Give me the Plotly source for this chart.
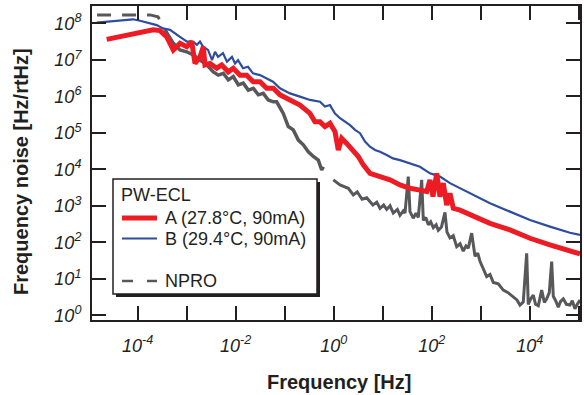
import plotly.graph_objects as go

# ---- data (log10 of frequency [Hz], log10 of noise [Hz/rtHz]) ----
b_logf = [-4.837, -4.096, -3.953, -3.612, -3.484, -3.341, -3.137, -2.994, -2.871, -2.790, -2.729,
          -2.667, -2.565, -2.483, -2.422, -2.361, -2.259, -2.178, -2.076, -2.014, -1.953, -1.851,
          -1.749, -1.647, -1.504, -1.361, -1.239, -1.096, -0.892, -0.688, -0.484, -0.280, -0.178,
          -0.076, 0.027, 0.129, 0.231, 0.333, 0.435, 0.537, 0.639, 0.741, 0.843, 0.945, 1.082,
          1.210, 1.353, 1.557, 1.761, 1.965, 2.169, 2.373, 2.578, 2.782, 2.986, 3.190, 3.598,
          4.006, 4.414, 4.822, 5.027]
b_logn = [8.02, 8.11, 8.07, 7.95, 7.86, 7.82, 7.63, 7.50, 7.50, 7.41, 7.50,
          7.36, 7.27, 6.99, 7.22, 7.08, 7.18, 6.95, 7.08, 6.90, 6.99, 6.77,
          6.81, 6.63, 6.58, 6.49, 6.40, 6.22, 6.08, 5.99, 5.90, 5.85, 5.72,
          5.76, 5.53, 5.40, 5.31, 5.21, 5.08, 4.99, 4.76, 4.62, 4.53, 4.48, 4.39,
          4.30, 4.25, 4.16, 4.07, 3.89, 3.80, 3.62, 3.48, 3.34, 3.21, 3.07, 2.84,
          2.61, 2.43, 2.26, 2.20]

a_logf = [-4.633, -3.953, -3.682, -3.545, -3.408, -3.273, -3.137, -3.000, -2.898, -2.831, -2.729,
          -2.661, -2.627, -2.524, -2.388, -2.286, -2.151, -2.049, -1.912, -1.776, -1.641, -1.504,
          -1.367, -1.233, -1.096, -0.892, -0.688, -0.484, -0.382, -0.280, -0.178, -0.076, 0.027,
          0.094, 0.163, 0.265, 0.400, 0.502, 0.604, 0.741, 0.945, 1.149, 1.353, 1.557, 1.761,
          1.898, 1.965, 2.027, 2.102, 2.169, 2.237, 2.306, 2.373, 2.441, 2.578, 2.782, 2.986,
          3.190, 3.598, 4.006, 4.414, 4.822, 5.027]
a_logn = [7.56, 7.73, 7.82, 7.80, 7.63, 7.27, 7.45, 7.36, 7.50, 6.90, 7.08,
          7.36, 6.86, 6.90, 6.77, 6.86, 6.67, 6.77, 6.58, 6.58, 6.40, 6.40,
          6.22, 6.22, 6.04, 5.90, 5.76, 5.53, 5.30, 5.30, 5.17, 5.26, 5.03,
          4.53, 4.85, 4.71, 4.53, 4.35, 4.12, 3.89, 3.80, 3.71, 3.57, 3.48, 3.43,
          3.39, 3.71, 3.25, 3.89, 3.25, 3.62, 3.02, 3.34, 2.93, 2.88, 2.77, 2.66,
          2.52, 2.34, 2.11, 1.93, 1.74, 1.68]

# NPRO: low-frequency flat part
n_low_logf = [-4.83, -3.749, -3.586, -3.443]
n_low_logn = [8.23, 8.23, 8.18, 7.82]
# NPRO: steep middle part
n_logf = [-3.443, -3.273, -3.137, -3.000, -2.865, -2.729, -2.592, -2.457, -2.355, -2.253, -2.151,
          -2.049, -1.947, -1.845, -1.743, -1.641, -1.539, -1.437, -1.335, -1.233, -1.163, -1.029,
          -0.927, -0.824, -0.722, -0.620, -0.518, -0.416, -0.314, -0.245, -0.212]
n_logn = [7.82, 7.45, 7.27, 7.22, 7.13, 6.99, 6.86, 6.67, 6.58, 6.63, 6.45,
          6.54, 6.31, 6.36, 6.17, 6.22, 6.04, 6.08, 5.90, 5.85, 5.85, 5.53,
          5.17, 5.08, 4.80, 4.67, 4.48, 4.35, 4.25, 3.98, 4.07]
# NPRO: high-frequency part
n_hi_logf = [-0.008, 0.129, 0.298, 0.40, 0.48, 0.58, 0.673, 0.80, 0.88, 0.945, 1.02,
             1.082, 1.15, 1.216, 1.30, 1.353, 1.42, 1.455, 1.522, 1.557, 1.624, 1.68,
             1.727, 1.796, 1.829, 1.88, 1.931, 1.98, 2.033, 2.09, 2.135, 2.20, 2.271,
             2.312, 2.373, 2.44, 2.510, 2.58, 2.645, 2.70, 2.747, 2.816, 2.884, 2.94,
             2.986, 3.05, 3.122, 3.19, 3.257, 3.36, 3.461, 3.56, 3.665, 3.74, 3.802,
             3.869, 3.939, 3.971, 4.02, 4.073, 4.12, 4.176, 4.245, 4.30, 4.347, 4.40,
             4.449, 4.482, 4.53, 4.584, 4.63, 4.686, 4.75, 4.822, 4.87, 4.924, 4.98, 5.027]
n_hi_logn = [3.71, 3.57, 3.48, 3.30, 3.38, 3.18, 3.22, 3.02, 3.10, 2.93, 3.02,
             2.90, 3.00, 2.80, 2.90, 2.74, 2.86, 2.80, 3.80, 2.84, 2.66, 2.80,
             2.68, 3.71, 2.60, 2.68, 2.48, 2.56, 2.40, 2.48, 2.33, 2.42, 2.82,
             2.28, 2.12, 2.18, 1.88, 1.96, 1.76, 1.90, 1.84, 2.25, 1.62, 1.70,
             1.48, 1.30, 1.06, 1.12, 0.90, 0.86, 0.69, 0.62, 0.50, 0.42, 0.28,
             0.36, 1.70, 0.30, 0.45, 0.55, 0.30, 0.26, 0.69, 0.35, 0.45, 0.62,
             1.47, 0.52, 0.40, 0.22, 0.38, 0.45, 0.30, 0.28, 0.40, 0.18, 0.32, 0.42]

x_tick_exp = list(range(-5, 6))
y_tick_exp = list(range(0, 9))

x_title = "Frequency [Hz]"
y_title = "Frequency noise [Hz/rtHz]"
legend_title = "PW-ECL"
name_a = "A (27.8°C, 90mA)"
name_b = "B (29.4°C, 90mA)"
name_n = "NPRO"

RED = "#ED1C24"
BLUE = "#2E4DA0"
GRAY = "#58585A"
INK = "#231F20"
FONT = "Liberation Sans, Arial, sans-serif"

def p10(v):
    return [10 ** t for t in v]

fig = go.Figure()
fig.add_trace(go.Scatter(x=p10(n_low_logf), y=p10(n_low_logn), mode="lines",
                         line=dict(color=GRAY, width=3, dash="14px,11px"), showlegend=False))
fig.add_trace(go.Scatter(x=p10(n_logf), y=p10(n_logn), mode="lines",
                         line=dict(color=GRAY, width=3.5), showlegend=False))
fig.add_trace(go.Scatter(x=p10(n_hi_logf), y=p10(n_hi_logn), mode="lines",
                         line=dict(color=GRAY, width=3), showlegend=False))
fig.add_trace(go.Scatter(x=p10(b_logf), y=p10(b_logn), mode="lines",
                         line=dict(color=BLUE, width=2.2), showlegend=False))
fig.add_trace(go.Scatter(x=p10(a_logf), y=p10(a_logn), mode="lines",
                         line=dict(color=RED, width=5), showlegend=False))

# plot area in px: x 92..580, y 6..320
L, R, T, B = 92, 580, 6, 320
W, H = R - L, B - T
def px(x):
    return (x - L) / W
def py(y):
    return (B - y) / H

shapes = [
    # legend shadow and box
    dict(type="rect", xref="paper", yref="paper", x0=px(116), x1=px(320), y0=py(297), y1=py(182),
         fillcolor=INK, line=dict(width=0)),
    dict(type="rect", xref="paper", yref="paper", x0=px(113), x1=px(317), y0=py(294), y1=py(179),
         fillcolor="white", line=dict(color=INK, width=1.5)),
    dict(type="line", xref="paper", yref="paper", x0=px(122), x1=px(157), y0=py(218), y1=py(218),
         line=dict(color=RED, width=5)),
    dict(type="line", xref="paper", yref="paper", x0=px(122), x1=px(157), y0=py(238.5), y1=py(238.5),
         line=dict(color=BLUE, width=2)),
    dict(type="line", xref="paper", yref="paper", x0=px(122), x1=px(157), y0=py(281), y1=py(281),
         line=dict(color=GRAY, width=2.5, dash="11px,14px")),
]
annotations = [
    dict(xref="paper", yref="paper", x=px(119), y=py(195), text=legend_title, showarrow=False,
         xanchor="left", yanchor="middle", font=dict(size=18, color=INK, family=FONT)),
    dict(xref="paper", yref="paper", x=px(163), y=py(218), text=name_a, showarrow=False,
         xanchor="left", yanchor="middle", font=dict(size=18, color=INK, family=FONT)),
    dict(xref="paper", yref="paper", x=px(163), y=py(238.5), text=name_b, showarrow=False,
         xanchor="left", yanchor="middle", font=dict(size=18, color=INK, family=FONT)),
    dict(xref="paper", yref="paper", x=px(163), y=py(281), text=name_n, showarrow=False,
         xanchor="left", yanchor="middle", font=dict(size=18, color=INK, family=FONT)),
    dict(xref="paper", yref="paper", x=px(339), y=py(382), text=f"<b>{x_title}</b>", showarrow=False,
         xanchor="center", yanchor="middle", font=dict(size=20, color=INK, family=FONT)),
    dict(xref="paper", yref="paper", x=px(21), y=py(172), text=f"<b>{y_title}</b>", showarrow=False,
         textangle=-90, xanchor="center", yanchor="middle", font=dict(size=20, color=INK, family=FONT)),
]

xtickvals = [10 ** e for e in x_tick_exp]
xticktext = [f"<i>10<sup>{e}</sup></i>" if e % 2 == 0 else "" for e in x_tick_exp]
ytickvals = [10 ** e for e in y_tick_exp]
yticktext = [f"<i>10<sup>{e}</sup></i>" for e in y_tick_exp]

fig.update_layout(
    width=584, height=395,
    margin=dict(l=L, r=584 - R, t=T, b=395 - B, autoexpand=False),
    paper_bgcolor="white", plot_bgcolor="white",
    font=dict(family=FONT, color=INK, size=17),
    shapes=shapes, annotations=annotations,
    showlegend=False, hovermode=False,
    xaxis=dict(type="log", range=[-4.933, 5.027], tickvals=xtickvals, ticktext=xticktext,
               ticks="inside", ticklen=14, tickwidth=2, tickcolor=INK, ticklabelstandoff=8,
               showline=True, linewidth=2, linecolor=INK, mirror="ticks", automargin=False,
               showgrid=False, zeroline=False, tickfont=dict(size=18, family=FONT)),
    yaxis=dict(type="log", range=[-0.129, 8.474], tickvals=ytickvals, ticktext=yticktext,
               ticks="inside", ticklen=14, tickwidth=2, tickcolor=INK, ticklabelstandoff=5,
               showline=True, linewidth=2, linecolor=INK, mirror="ticks", automargin=False,
               showgrid=False, zeroline=False, tickfont=dict(size=18, family=FONT)),
)

fig.write_html("out.html", config={"displayModeBar": False, "staticPlot": True},
               post_script="document.body.style.margin='0';document.body.style.overflow='hidden';")
